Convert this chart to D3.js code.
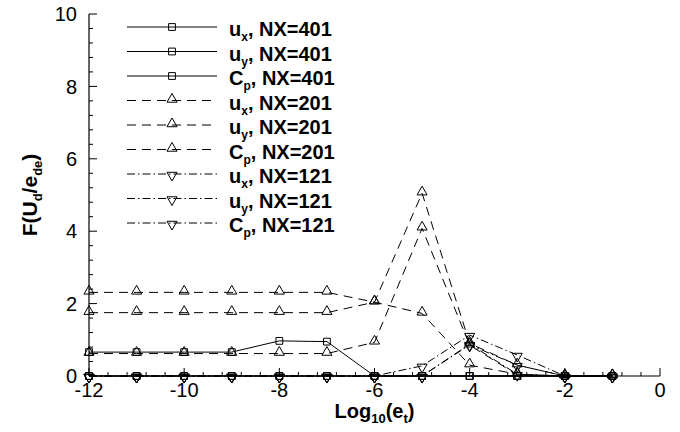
<!DOCTYPE html>
<html><head><meta charset="utf-8">
<script src="https://cdn.jsdelivr.net/npm/d3@7"></script>
<style>
html,body{margin:0;padding:0;background:#fff;}
svg{display:block;font-family:"Liberation Sans",Arial,sans-serif;}
</style></head>
<body><svg id="c" width="680" height="432"></svg>
<script>
const xVals = [-12,-11,-10,-9,-8,-7,-6,-5,-4,-3,-2,-1];
const ux401 = [0.66,0.66,0.66,0.66,0.97,0.95,0,0,0,0,0,0];
const uy401 = [0,0,0,0,0,0,0,0,0,0,0,0];
const cp401 = [0,0,0,0,0,0,0,0,0,0,0,0];
const ux201 = [2.31,2.31,2.31,2.31,2.31,2.31,2.04,1.73,0.30,0.05,0,0];
const uy201 = [1.75,1.75,1.75,1.75,1.75,1.75,2.04,5.05,0.90,0.30,0,0];
const cp201 = [0.62,0.62,0.62,0.62,0.62,0.62,0.93,4.08,0.85,0.03,0,0];
const ux121 = [0,0,0,0,0,0,0,0.28,1.13,0.58,0,0];
const uy121 = [0,0,0,0,0,0,0,0,0.86,0.30,0,0];
const cp121 = [0,0,0,0,0,0,0,0,0.88,0.05,0,0];
const legendVar = ["x","y","p"];
const legendBase = ["u","u","C"];
const legendNX = ["401","201","121"];
const xTicks = [-12,-10,-8,-6,-4,-2,0];
const yTicks = [0,2,4,6,8,10];

const series = [
  {v:ux401,g:0,i:0},{v:uy401,g:0,i:1},{v:cp401,g:0,i:2},
  {v:ux201,g:1,i:0},{v:uy201,g:1,i:1},{v:cp201,g:1,i:2},
  {v:ux121,g:2,i:0},{v:uy121,g:2,i:1},{v:cp121,g:2,i:2}
];
const dashes = [null,"9,6","8,3,1.5,3"];

const svg = d3.select("#c");
const x = d3.scaleLinear().domain([-12,0]).range([89,660]);
const y = d3.scaleLinear().domain([0,10]).range([376,14]);

// axes
const ax = svg.append("g");
ax.append("line").attr("x1",x(-12)).attr("x2",x(0)).attr("y1",y(0)).attr("y2",y(0)).attr("stroke","#000").attr("stroke-width",1.2);
ax.append("line").attr("x1",x(-12)).attr("x2",x(-12)).attr("y1",y(0)).attr("y2",y(10)).attr("stroke","#000").attr("stroke-width",1.2);
const xMinor = d3.range(0,31).map(k=>-12+k*0.4);
xMinor.forEach(t=>{
  const major = xTicks.some(m=>Math.abs(m-t)<1e-6);
  ax.append("line").attr("x1",x(t)).attr("x2",x(t)).attr("y1",y(0)).attr("y2",y(0)-(major?8:4)).attr("stroke","#000").attr("stroke-width",1);
});
const yMinor = d3.range(0,26).map(k=>k*0.4);
yMinor.forEach(t=>{
  const major = yTicks.some(m=>Math.abs(m-t)<1e-6);
  ax.append("line").attr("x1",x(-12)).attr("x2",x(-12)+(major?8:4)).attr("y1",y(t)).attr("y2",y(t)).attr("stroke","#000").attr("stroke-width",1);
});
xTicks.forEach(t=>{
  ax.append("text").attr("x",x(t)).attr("y",397).attr("text-anchor","middle").attr("font-size",20).text(t);
});
yTicks.forEach(t=>{
  ax.append("text").attr("x",77).attr("y",y(t)).attr("dy","0.36em").attr("text-anchor","end").attr("font-size",20).text(t);
});
// axis titles
const xt = svg.append("text").attr("x",(x(-12)+x(0))/2).attr("y",418).attr("text-anchor","middle").attr("font-size",20).attr("font-weight","bold");
xt.append("tspan").text("Log");
xt.append("tspan").attr("font-size",13).attr("dy",5).text("10");
xt.append("tspan").attr("dy",-5).text("(e");
xt.append("tspan").attr("font-size",13).attr("dy",5).text("t");
xt.append("tspan").attr("dy",-5).text(")");
const yt = svg.append("text").attr("transform",`translate(37,${(y(0)+y(10))/2}) rotate(-90)`).attr("text-anchor","middle").attr("font-size",21).attr("font-weight","bold");
yt.append("tspan").text("F(U");
yt.append("tspan").attr("font-size",13).attr("dy",5).text("d");
yt.append("tspan").attr("dy",-5).text("/e");
yt.append("tspan").attr("font-size",13).attr("dy",5).text("de");
yt.append("tspan").attr("dy",-5).text(")");

const line = d3.line().x((d,i)=>x(xVals[i])).y(d=>y(d));
const sym = [d3.symbol().type(d3.symbolSquare).size(46), d3.symbol().type(d3.symbolTriangle).size(44), d3.symbol().type(d3.symbolTriangle).size(44)];
function marker(g,grp,cx,cy){
  const rot = grp===2?180:0;
  const dy = grp===1?-1.2:(grp===2?1.2:0);
  g.append("path").attr("d",sym[grp]()).attr("transform",`translate(${cx},${cy+dy}) rotate(${rot})`)
   .attr("fill","none").attr("stroke","#000").attr("stroke-width",1);
}
const plot = svg.append("g");
series.forEach(s=>{
  plot.append("path").attr("d",line(s.v)).attr("fill","none").attr("stroke","#000").attr("stroke-width",1)
    .attr("stroke-dasharray",dashes[s.g]);
  s.v.forEach((d,i)=>marker(plot,s.g,x(xVals[i]),y(d)));
});

// legend
const lg = svg.append("g");
series.forEach((s,k)=>{
  const ly = 27 + k*24.5;
  lg.append("line").attr("x1",127).attr("x2",217).attr("y1",ly).attr("y2",ly).attr("stroke","#000").attr("stroke-width",1).attr("stroke-dasharray",dashes[s.g]);
  marker(lg,s.g,172,ly);
  const t = lg.append("text").attr("x",229).attr("y",ly+9).attr("font-size",20).attr("font-weight","bold");
  t.append("tspan").text(legendBase[s.i]);
  t.append("tspan").attr("font-size",12).attr("dy",5).text(legendVar[s.i]);
  t.append("tspan").attr("dy",-5).text(", NX="+legendNX[s.g]);
});
</script></body></html>
